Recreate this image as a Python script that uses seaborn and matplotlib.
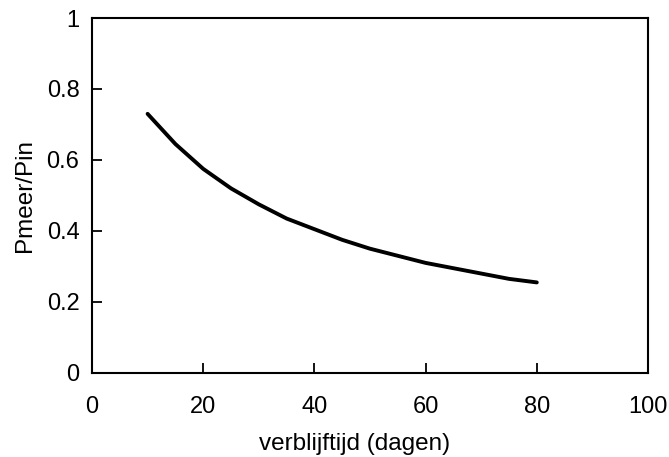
import matplotlib
matplotlib.use('Agg')
import matplotlib.pyplot as plt
import pandas as pd
import seaborn as sns

# values
verblijftijd = [10, 15, 20, 25, 30, 35, 40, 45, 50, 55, 60, 65, 70, 75, 80]
pmeer_pin = [0.73, 0.645, 0.575, 0.52, 0.475, 0.435, 0.405, 0.375, 0.35,
             0.33, 0.31, 0.295, 0.28, 0.265, 0.255]
x_ticks = [0, 20, 40, 60, 80, 100]
y_ticks = [0, 0.2, 0.4, 0.6, 0.8, 1]
y_ticklabels = ['0', '0.2', '0.4', '0.6', '0.8', '1']

df = pd.DataFrame({'t': verblijftijd, 'p': pmeer_pin})

sns.set_style('white')
plt.rcParams['font.family'] = ['Liberation Sans', 'DejaVu Sans']
plt.rcParams['text.color'] = 'black'
plt.rcParams['axes.labelcolor'] = 'black'

fig = plt.figure(figsize=(6.69, 4.57), dpi=100)
ax = fig.add_axes([0.1375, 0.184, 0.8311, 0.7766])

sns.lineplot(data=df, x='t', y='p', ax=ax, color='black', linewidth=2.8)

ax.set_xlim(0, 100)
ax.set_ylim(0, 1)
ax.set_xticks(x_ticks)
ax.set_yticks(y_ticks)
ax.set_yticklabels(y_ticklabels)
ax.set_xlabel('verblijftijd (dagen)', fontsize=17.5, labelpad=11, color='black')
ax.set_ylabel('Pmeer/Pin', fontsize=17.5, labelpad=8, color='black')
ax.xaxis.label.set_x(0.473)
ax.tick_params(axis='x', bottom=True, direction='in', length=7, width=1.3, labelsize=17, pad=16.5, colors='black')
ax.tick_params(axis='y', left=True, direction='in', length=7, width=1.3, labelsize=17, pad=9, colors='black')
for s in ax.spines.values():
    s.set_linewidth(1.5)
    s.set_color('black')

plt.savefig('out.png', dpi=100)
